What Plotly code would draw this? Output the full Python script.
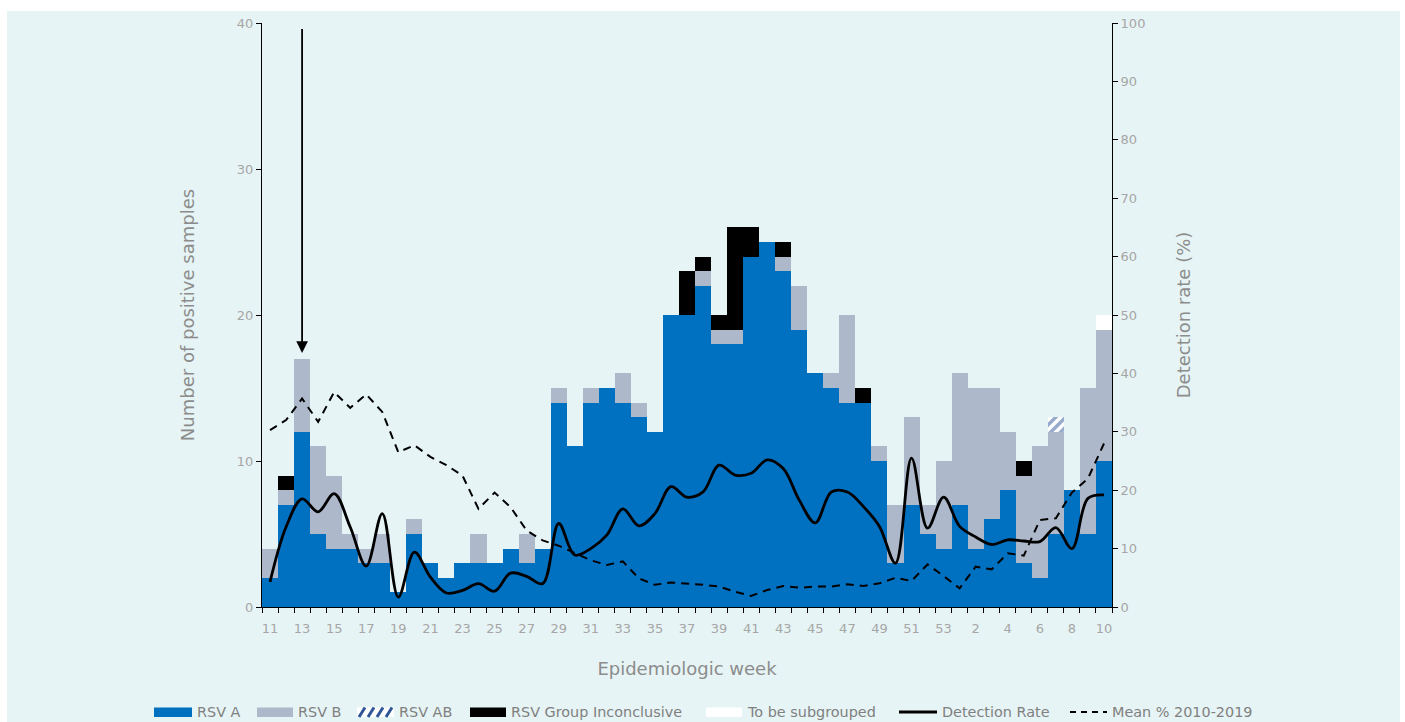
import plotly.graph_objects as go

# Epidemiologic weeks (season runs from week 11 through week 53, then weeks 1-10)
weeks = list(range(11, 54)) + list(range(1, 11))
week_labels = [str(w) for w in weeks]
shown_labels = [11, 13, 15, 17, 19, 21, 23, 25, 27, 29, 31, 33, 35, 37, 39, 41, 43,
                45, 47, 49, 51, 53, 2, 4, 6, 8, 10]

# Positive samples per subgroup
rsv_a = [2, 7, 12, 5, 4, 4, 3, 3, 1, 5, 3, 2, 3, 3, 3, 4, 3, 4, 14, 11, 14, 15, 14, 13,
         12, 20, 20, 22, 18, 18, 24, 25, 23, 19, 16, 15, 14, 14, 10, 3, 7, 5, 4, 7, 4,
         6, 8, 3, 2, 5, 8, 5, 10]
rsv_b = [2, 1, 5, 6, 5, 1, 1, 2, 0, 1, 0, 0, 0, 2, 0, 0, 2, 0, 1, 0, 1, 0, 2, 1, 0, 0,
         0, 1, 1, 1, 0, 0, 1, 3, 0, 1, 6, 0, 1, 4, 6, 2, 6, 9, 11, 9, 4, 6, 9, 7, 0, 10, 9]
rsv_ab = [0] * 49 + [1, 0, 0, 0]
rsv_inconclusive = [0, 1, 0, 0, 0, 0, 0, 0, 0, 0, 0, 0, 0, 0, 0, 0, 0, 0, 0, 0, 0, 0,
                    0, 0, 0, 0, 3, 1, 1, 7, 2, 0, 1, 0, 0, 0, 0, 1, 0, 0, 0, 0, 0, 0,
                    0, 0, 0, 1, 0, 0, 0, 0, 0]
to_be_subgrouped = [0] * 52 + [1]

# Detection rate (%) and historical mean (%)
detection_rate = [4.3, 13.7, 18.5, 16.3, 19.4, 13.7, 7.0, 16.0, 1.7, 9.4,
                  5.1, 2.4, 2.85, 4.0, 2.7, 5.8, 5.25, 4.0, 14.3, 8.9,
                  10.0, 12.3, 16.8, 13.9, 16.0, 20.6, 18.8, 19.7, 24.3, 22.6,
                  22.9, 25.2, 23.7, 18.3, 14.4, 19.7, 19.7, 17.2, 13.8, 7.5,
                  25.5, 13.5, 18.8, 13.8, 12.0, 10.7, 11.5, 11.3, 11.2, 13.6,
                  10.0, 18.6, 19.2]
mean_2010_2019 = [30.3, 32.0, 35.7, 31.7, 36.8, 34.1, 36.4, 33.4, 26.5, 27.7,
                  25.7, 24.3, 22.5, 16.8, 19.6, 17.1, 13.1, 11.4, 10.5, 9.2,
                  8.0, 7.2, 7.8, 4.9, 3.8, 4.2, 4.05, 3.8, 3.5, 2.6,
                  1.9, 2.9, 3.6, 3.3, 3.5, 3.5, 3.9, 3.6, 4.05, 5.0,
                  4.45, 7.3, 5.3, 3.2, 6.9, 6.45, 9.2, 8.8, 14.9, 15.2,
                  19.6, 22.0, 28.0]

# Week flagged with the arrow
arrow_week = 13

BG = "#e6f4f5"
TICK_GRAY = "#a6a6a6"
TITLE_GRAY = "#8c8c8c"
LEGEND_GRAY = "#808080"
FONT = "DejaVu Sans"
BLUE_A = "#0070c0"
GRAY_B = "#adb9ca"
HATCH = "#2f5597"

fig = go.Figure()

fig.add_trace(go.Bar(x=week_labels, y=rsv_a, name="RSV A",
                     marker=dict(color=BLUE_A, line=dict(width=0))))
fig.add_trace(go.Bar(x=week_labels, y=rsv_b, name="RSV B",
                     marker=dict(color=GRAY_B, line=dict(width=0))))
fig.add_trace(go.Bar(x=week_labels, y=rsv_ab, name="RSV AB",
                     marker=dict(color="#ffffff", line=dict(width=0),
                                 pattern=dict(shape="/", fgcolor=HATCH,
                                              bgcolor="#ffffff", size=7, solidity=0.5))))
fig.add_trace(go.Bar(x=week_labels, y=rsv_inconclusive, name="RSV Group Inconclusive",
                     marker=dict(color="#000000", line=dict(width=0))))
fig.add_trace(go.Bar(x=week_labels, y=to_be_subgrouped, name="To be subgrouped",
                     marker=dict(color="#ffffff", line=dict(width=0))))

fig.add_trace(go.Scatter(x=week_labels, y=detection_rate, name="Detection Rate",
                         yaxis="y2", mode="lines",
                         line=dict(color="#000000", width=2.8, shape="spline", smoothing=1.0)))
fig.add_trace(go.Scatter(x=week_labels, y=mean_2010_2019, name="Mean % 2010-2019",
                         yaxis="y2", mode="lines",
                         line=dict(color="#000000", width=2, dash="8px,6px")))

# Arrow pointing down at the flagged week (category index on the x axis)
arrow_idx = weeks.index(arrow_week)
fig.add_annotation(x=arrow_idx, y=17.4, xref="x", yref="y", ax=0, ay=39.7, ayref="y",
                   text="", showarrow=True, arrowhead=2, arrowsize=1.3,
                   arrowwidth=1.8, arrowcolor="#000000")

# Helpers converting page pixels to paper coordinates (fixed margins)
W, H = 1405, 722
L, R, T, B = 262, 293, 23, 115
PW, PH = W - L - R, H - T - B


def px(xp):
    return (xp - L) / PW


def py(yp):
    return 1 - (yp - T) / PH


# Thin white border at the top and sides of the panel
for x0, y0, x1, y1 in [(0, 0, W, 11), (0, 0, 7, H), (1400, 0, W, H)]:
    fig.add_shape(type="rect", xref="paper", yref="paper",
                  x0=px(x0), x1=px(x1), y0=py(y1), y1=py(y0),
                  fillcolor="#ffffff", line=dict(width=0), layer="above")

# Legend row along the bottom
LEG_Y = 712
legend_items = [
    ("rect", BLUE_A, 154, 192, "RSV A"),
    ("rect", GRAY_B, 257, 293, "RSV B"),
    ("hatch", HATCH, 357, 394, "RSV AB"),
    ("rect", "#000000", 470, 506, "RSV Group Inconclusive"),
    ("rect", "#ffffff", 706, 742, "To be subgrouped"),
    ("line", "solid", 899, 937, "Detection Rate"),
    ("line", "dash", 1070, 1107, "Mean % 2010-2019"),
]
for kind, style, x0, x1, label in legend_items:
    if kind == "rect":
        fig.add_shape(type="rect", xref="paper", yref="paper",
                      x0=px(x0), x1=px(x1), y0=py(LEG_Y + 5), y1=py(LEG_Y - 4.5),
                      fillcolor=style, line=dict(width=0), layer="above")
    elif kind == "hatch":
        fig.add_shape(type="rect", xref="paper", yref="paper",
                      x0=px(x0), x1=px(x1), y0=py(LEG_Y + 5), y1=py(LEG_Y - 4.5),
                      fillcolor="#ffffff", line=dict(width=0), layer="above")
        for k in range(4):
            sx = x0 + 2 + k * 9
            fig.add_shape(type="line", xref="paper", yref="paper",
                          x0=px(sx), x1=px(sx + 6), y0=py(LEG_Y + 5), y1=py(LEG_Y - 4.5),
                          line=dict(color=style, width=3), layer="above")
    else:
        fig.add_shape(type="line", xref="paper", yref="paper",
                      x0=px(x0), x1=px(x1), y0=py(LEG_Y), y1=py(LEG_Y),
                      line=dict(color="#000000", width=3 if style == "solid" else 2,
                                dash="solid" if style == "solid" else "6px,5px"),
                      layer="above")
    fig.add_annotation(x=px(x1 + 4), y=py(LEG_Y), xref="paper", yref="paper",
                       xanchor="left", yanchor="middle", text=label, showarrow=False,
                       borderpad=0, font=dict(size=14.4, color=LEGEND_GRAY, family=FONT))

fig.update_layout(
    width=W, height=H,
    margin=dict(l=L, r=R, t=T, b=B),
    paper_bgcolor=BG, plot_bgcolor=BG,
    barmode="stack", bargap=0,
    showlegend=False,
    font=dict(family=FONT, color=TITLE_GRAY),
    xaxis=dict(
        type="category", tickmode="array", tickvals=week_labels,
        ticktext=[w if int(w) in shown_labels else "" for w in week_labels],
        tickson="boundaries", ticks="outside", ticklen=5, tickcolor="#000000",
        tickangle=0, automargin=False, ticklabelstandoff=9,
        tickfont=dict(size=13, color=TICK_GRAY, family=FONT),
        showline=True, linecolor="#000000", linewidth=1, showgrid=False,
        title=dict(text="Epidemiologic week", font=dict(size=18, color=TITLE_GRAY),
                   standoff=27),
    ),
    yaxis=dict(
        range=[0, 40], dtick=10, ticks="outside", ticklen=5, tickcolor="#000000",
        tickfont=dict(size=13, color=TICK_GRAY), showline=True, linecolor="#000000",
        linewidth=1, showgrid=False, zeroline=False, automargin=False,
        title=dict(text="Number of positive samples", font=dict(size=18, color=TITLE_GRAY),
                   standoff=37),
    ),
    yaxis2=dict(
        range=[0, 100], dtick=10, overlaying="y", side="right", ticks="outside",
        ticklen=5, tickcolor="#000000", tickfont=dict(size=13, color=TICK_GRAY),
        showline=True, linecolor="#000000", linewidth=1, showgrid=False, zeroline=False,
        automargin=False,
        title=dict(text="Detection rate (%)", font=dict(size=18, color=TITLE_GRAY),
                   standoff=32),
    ),
)

fig.write_html("out.html")
